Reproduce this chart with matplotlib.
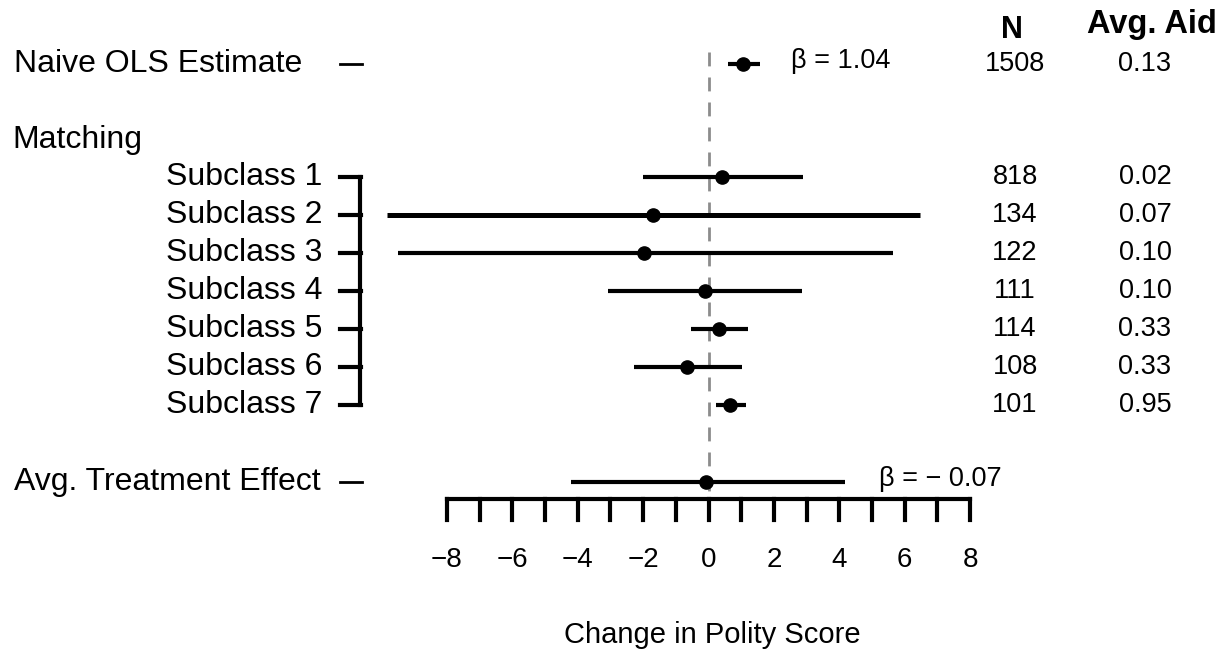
import matplotlib
matplotlib.use("Agg")
import matplotlib.pyplot as plt

plt.rcParams['font.family'] = ['Liberation Sans', 'DejaVu Sans']

# data
labels = ["Naive OLS Estimate", "Subclass 1", "Subclass 2", "Subclass 3", "Subclass 4",
          "Subclass 5", "Subclass 6", "Subclass 7", "Avg. Treatment Effect"]
est = [1.04, 0.42, -1.70, -1.96, -0.11, 0.31, -0.66, 0.65, -0.07]
lower = [0.59, -2.00, -9.84, -9.49, -3.06, -0.53, -2.29, 0.24, -4.20]
upper = [1.56, 2.88, 6.47, 5.63, 2.87, 1.20, 1.02, 1.14, 4.16]
n_obs = [1508, 818, 134, 122, 111, 114, 108, 101]
avg_aid = ["0.13", "0.02", "0.07", "0.10", "0.10", "0.33", "0.33", "0.95"]
xticks = list(range(-8, 9))
xticklabels = [-8, -6, -4, -2, 0, 2, 4, 6, 8]

# layout (pixel rows of the picture)
row_y = [64, 177, 215, 253, 291, 329, 367, 405, 482]
x0_px, px_per_unit = 708.5, 32.7

def px(x):
    return (x - x0_px) / px_per_unit

fig = plt.figure(figsize=(12.25, 6.56), dpi=100)
ax = fig.add_axes([0, 0, 1, 1])
ax.set_xlim(px(0), px(1225))
ax.set_ylim(656, 0)
ax.axis("off")

# dashed zero line
ax.plot([0, 0], [52, 492], color="#8c8c8c", lw=2, ls=(0, (5, 4)), zorder=1)

# intervals and points
for i in range(len(est)):
    lw = 3.6 if i == 2 else 3
    ax.plot([lower[i], upper[i]], [row_y[i], row_y[i]], color="black", lw=lw,
            solid_capstyle="butt", zorder=2)
    ax.plot(est[i], row_y[i], "o", color="black", ms=9.5, zorder=3)

fs_lab = 23
fs_num = 19.5
# left labels
ax.text(px(14), row_y[0], labels[0], fontsize=fs_lab, ha="left", va="center")
ax.text(px(12), 140, "Matching", fontsize=fs_lab, ha="left", va="center")
for i in range(1, 8):
    ax.text(px(322), row_y[i], labels[i], fontsize=fs_lab, ha="right", va="center")
ax.text(px(14), row_y[8], labels[8], fontsize=fs_lab, ha="left", va="center")

# dashes and bracket
for i in [0, 8]:
    ax.plot([px(340), px(362)], [row_y[i], row_y[i]], color="black", lw=2)
for i in range(1, 8):
    ax.plot([px(340), px(361)], [row_y[i], row_y[i]], color="black", lw=3)
ax.plot([px(360), px(360)], [row_y[1], row_y[7]], color="black", lw=3,
        solid_capstyle="projecting")

# beta annotations
ax.text(px(791), row_y[0] - 3, "β = 1.04", fontsize=fs_num, ha="left", va="center")
ax.text(px(879), row_y[8] - 3, "β = − 0.07", fontsize=fs_num, ha="left", va="center")

# right-hand columns
ax.text(px(1012), 30, "N", fontsize=22, fontweight="bold", ha="center", va="center")
ax.text(px(1152), 24, "Avg. Aid", fontsize=23.5, fontweight="bold", ha="center", va="center")
for i in range(8):
    ax.text(px(1015), row_y[i], str(n_obs[i]), fontsize=fs_num, ha="center", va="center")
    ax.text(px(1145), row_y[i], avg_aid[i], fontsize=fs_num, ha="center", va="center")

# custom x axis
ax.plot([xticks[0], xticks[-1]], [499, 499], color="black", lw=3, solid_capstyle="projecting")
for t in xticks:
    ax.plot([t, t], [499, 520], color="black", lw=3)
for t in xticklabels:
    ax.text(t, 560, "−%d" % abs(t) if t < 0 else str(t), fontsize=20,
            ha="center", va="center")
ax.text(px(712), 635, "Change in Polity Score", fontsize=21, ha="center", va="center")

fig.savefig("out.png", dpi=100)
